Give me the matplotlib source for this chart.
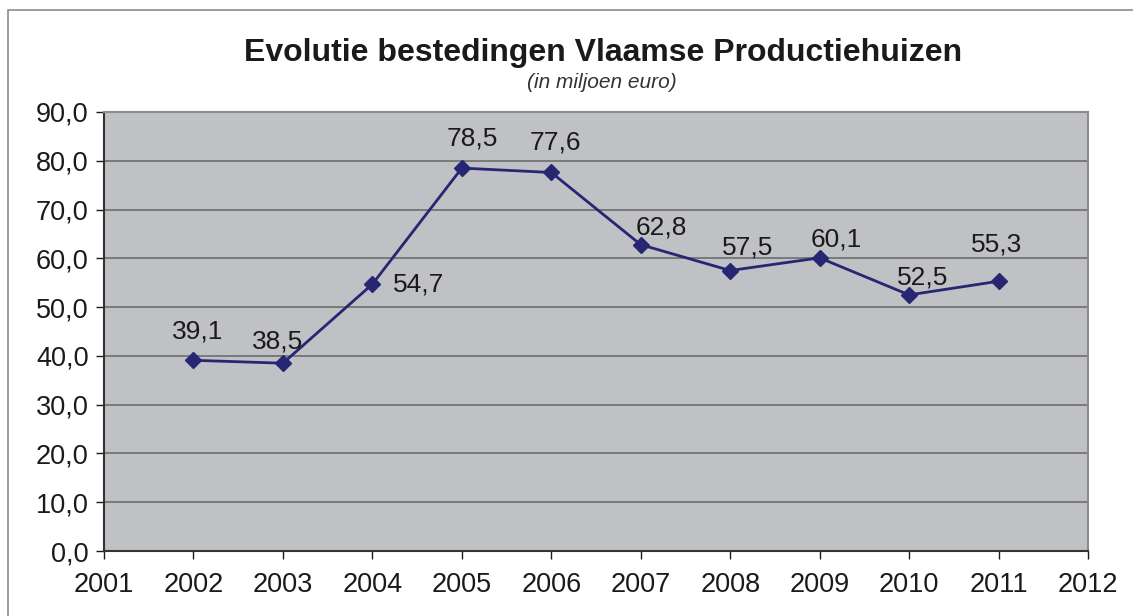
import matplotlib.pyplot as plt
from matplotlib.patches import Rectangle

plt.rcParams['font.family'] = ['Liberation Sans', 'DejaVu Sans']

# -----------------------------------------------------------------------
# Data
# -----------------------------------------------------------------------
years = [2002, 2003, 2004, 2005, 2006, 2007, 2008, 2009, 2010, 2011]
spend = [39.1, 38.5, 54.7, 78.5, 77.6, 62.8, 57.5, 60.1, 52.5, 55.3]
labels = ['39,1', '38,5', '54,7', '78,5', '77,6', '62,8', '57,5', '60,1', '52,5', '55,3']

# label offsets in pixels (dx, dy) relative to each point
offsets = [(4, 29), (-5, 22), (46, 0), (10, 30), (4, 30), (21, 17), (17, 23),
           (17, 18), (14, 17), (-2, 37)]

fig = plt.figure(figsize=(11.33, 6.16), dpi=100)
ax = fig.add_axes([0.0918, 0.1055, 0.8685, 0.7127])

# outer chart border
fig.patches.append(Rectangle((8 / 1133, -0.1), 1.2, 1 - 10 / 616 + 0.1,
                             transform=fig.transFigure, fill=False,
                             edgecolor='#8c8c8c', linewidth=1.2))

ax.set_facecolor('#c0c1c4')
ax.plot(years, spend, color='#262673', linewidth=2, marker='D',
        markersize=8.5, markerfacecolor='#262673', markeredgecolor='#262673',
        zorder=3)

for x, y, txt, (dx, dy) in zip(years, spend, labels, offsets):
    ax.annotate(txt, (x, y), xytext=(dx * 0.72, dy * 0.72),
                textcoords='offset points', ha='center', va='center',
                fontsize=19, color='#1a1a1a')

ax.set_xlim(2001, 2012)
ax.set_ylim(0, 90)
ax.set_xticks(range(2001, 2013))
ax.set_yticks(range(0, 91, 10))
ax.set_yticklabels([f'{v:.1f}'.replace('.', ',') for v in range(0, 91, 10)])
ax.tick_params(labelsize=19.5, colors='#1a1a1a', length=6, width=1,
               direction='out')
ax.tick_params(axis='x', pad=9)
ax.tick_params(axis='y', pad=5)

ax.yaxis.grid(True, color='#6e6e6e', linewidth=1.2)
ax.set_axisbelow(True)
for side in ['top', 'right']:
    ax.spines[side].set_color('#8c8c8c')
    ax.spines[side].set_linewidth(1.5)
for side in ['left', 'bottom']:
    ax.spines[side].set_color('#333333')
    ax.spines[side].set_linewidth(1.5)

fig.text(0.532, 1 - 53 / 616, 'Evolutie bestedingen Vlaamse Productiehuizen',
         ha='center', va='center', fontsize=23, fontweight='bold',
         color='#1a1a1a')
fig.text(0.531, 1 - 83 / 616, '(in miljoen euro)', ha='center', va='center',
         fontsize=15, style='italic', color='#333333')

fig.savefig('out.png', dpi=100)
